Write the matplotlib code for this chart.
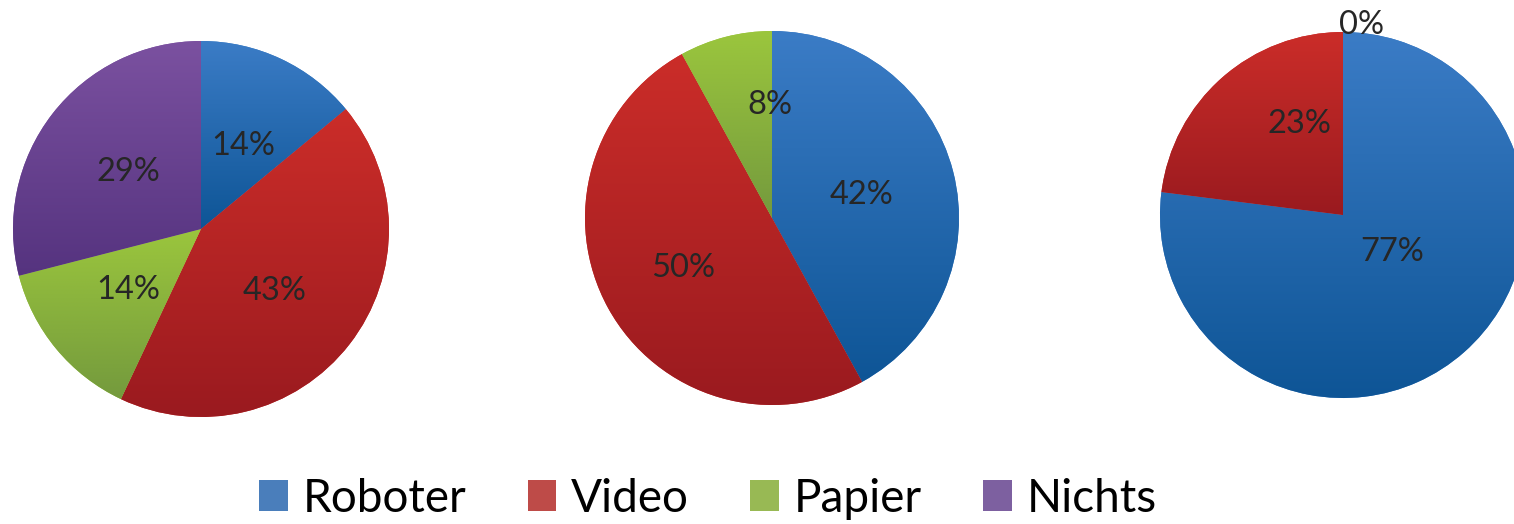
import matplotlib
matplotlib.use("Agg")
import matplotlib.pyplot as plt
import numpy as np
from matplotlib.colors import LinearSegmentedColormap
from matplotlib.patches import Patch

categories = ["Roboter", "Video", "Papier", "Nichts"]

# percentages per pie, clockwise from 12 o'clock
pie1_values = [14, 43, 14, 29]
pie2_values = [42, 50, 8]
pie3_values = [77, 23, 0]

# light (top) / dark (bottom) shades for the slice gradients
top_colors = ["#3b7cc6", "#cb2d29", "#9bc63d", "#7b51a0"]
bottom_colors = ["#0e5596", "#9a1a1f", "#749a3d", "#55337f"]
legend_colors = ["#4a7ebb", "#be4b48", "#98b954", "#7d60a0"]

W, H = 1514, 524

# pie centres / radii in pixels (y up), label offsets from centre
pies = [
    dict(values=pie1_values, center=(201, 295), radius=188,
         offsets=[(42, 83), (74, -62), (-73, -61), (-73, 57)]),
    dict(values=pie2_values, center=(772, 306), radius=187,
         offsets=[(90, 23), (-89, -50), (-2, 113)]),
    dict(values=pie3_values, center=(1343, 309), radius=183,
         offsets=[(49, -37), (-44, 91), (19, 190)]),
]

fig = plt.figure(figsize=(W / 100, H / 100), dpi=100)
ax = fig.add_axes([0, 0, 1, 1])

grad = np.linspace(0, 1, 256).reshape(-1, 1)

for p in pies:
    vals = p["values"]
    wedges, _ = ax.pie(vals, colors=top_colors[:len(vals)], startangle=90,
                       counterclock=False, center=p["center"],
                       radius=p["radius"], frame=True,
                       wedgeprops=dict(linewidth=0))
    for i, w in enumerate(wedges):
        if vals[i] == 0:
            continue
        bb = w.get_path().get_extents(w.get_patch_transform())
        cmap = LinearSegmentedColormap.from_list(
            "g%d" % i, [bottom_colors[i], top_colors[i]])
        im = ax.imshow(grad, cmap=cmap, origin="lower", aspect="auto",
                       extent=[bb.x0, bb.x1, bb.y0, bb.y1], zorder=2,
                       interpolation="bilinear")
        im.set_clip_path(w)
    cx, cy = p["center"]
    for v, (dx, dy) in zip(vals, p["offsets"]):
        ax.text(cx + dx, cy + dy, "%d%%" % v, ha="center", va="center",
                fontsize=23.5, family=["Lato", "DejaVu Sans"],
                color="#262626", zorder=3)

ax.set_xlim(0, W)
ax.set_ylim(0, H)
ax.set_aspect("auto")
ax.axis("off")

handles = [Patch(facecolor=c, edgecolor="none") for c in legend_colors]
fig.legend(handles, categories, loc="center", ncol=4, frameon=False,
           bbox_to_anchor=(708 / W, 25 / H),
           prop=dict(family=["Lato", "DejaVu Sans"], size=33),
           handlelength=0.63, handleheight=0.66, handletextpad=0.32,
           columnspacing=1.34)

fig.savefig("out.png", dpi=100, facecolor="white")
